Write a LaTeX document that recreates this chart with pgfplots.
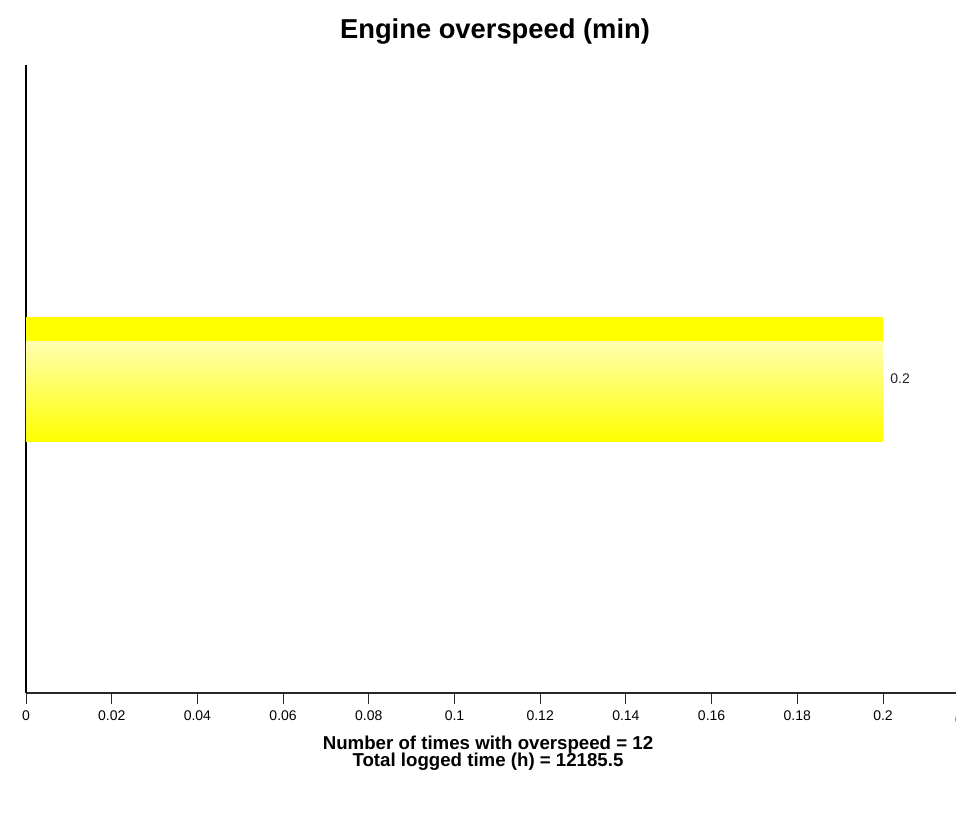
\documentclass[border=0pt]{standalone}
\usepackage{pgfplots}
\pgfplotsset{compat=1.18}
\usepackage{fontspec}
\setmainfont{Liberation Sans}
\definecolor{baryellow}{RGB}{255,255,0}
\definecolor{lightyellow}{RGB}{255,255,176}
\definecolor{axisgray}{RGB}{40,40,40}
\begin{document}
\begin{tikzpicture}
\useasboundingbox (0pt,0pt) rectangle (717pt,624.75pt);
\begin{axis}[
  at={(19.5pt,105pt)}, anchor=south west,
  scale only axis, width=697.5pt, height=471pt,
  xmin=0, xmax=0.21704, ymin=0, ymax=1,
  axis x line*=bottom, axis y line*=left,
  x axis line style={-, line width=1.3pt, color=axisgray},
  y axis line style={-, line width=1.5pt, color=black},
  xtick={0,0.02,0.04,0.06,0.08,0.1,0.12,0.14,0.16,0.18,0.2},
  ytick=\empty,
  scaled x ticks=false,
  tick align=outside, major tick length=8pt,
  xtick style={color=axisgray, line width=0.6pt},
  /pgf/number format/assume math mode=true,
  /pgf/number format/fixed,
  x tick label style={font=\fontsize{10.5}{12}\selectfont, color=black, yshift=-1.5pt},
  clip=false,
]
\addplot[xbar, bar width=93.75pt, bar shift=0pt, fill=baryellow, draw=none,
  nodes near coords, nodes near coords style={font=\fontsize{10.5}{12}\selectfont, color=black!85, anchor=west, xshift=2pt},
  point meta=x] coordinates {(0.2,0.5)};
\addplot[xbar, bar width=75pt, bar shift=-9.375pt, draw=none,
  top color=lightyellow, bottom color=baryellow] coordinates {(0.2,0.5)};
\node[font=\fontsize{10.5}{12}\selectfont, anchor=north] at (axis cs:0.22,0) [yshift=-12.5pt] {0.22};
\end{axis}
\node[font=\fontsize{20.5}{24}\selectfont\bfseries] at (371.25pt,601.5pt) {Engine overspeed (min)};
\node[font=\fontsize{14}{16}\selectfont\bfseries] at (366pt,66pt) {Number of times with overspeed = 12};
\node[font=\fontsize{14}{16}\selectfont\bfseries] at (366pt,53.25pt) {Total logged time (h) = 12185.5};
\end{tikzpicture}
\end{document}
